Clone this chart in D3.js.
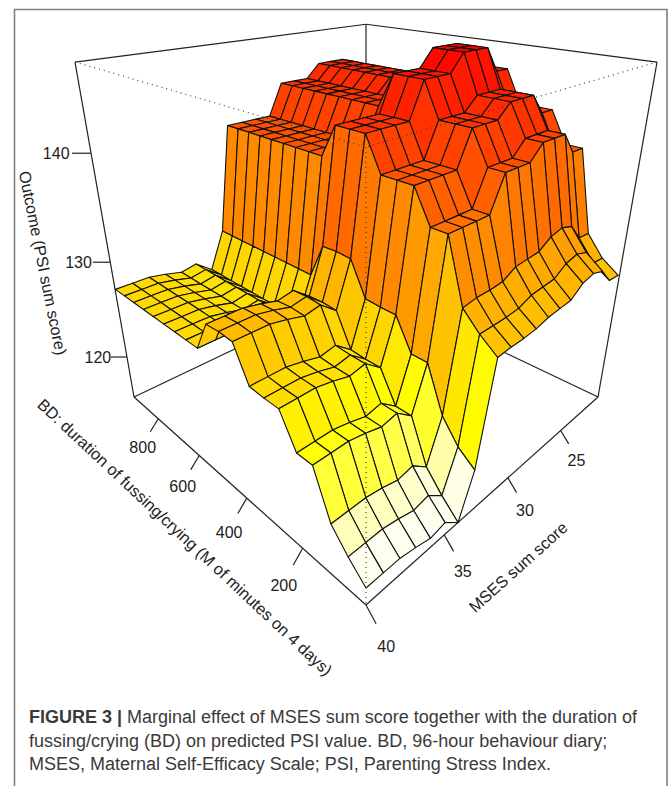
<!DOCTYPE html>
<html>
<head>
<meta charset="utf-8">
<script src="https://cdn.jsdelivr.net/npm/d3@7"></script>
<style>
  html, body { margin: 0; padding: 0; background: #fff; }
  svg { display: block; font-family: "Liberation Sans", Arial, sans-serif; }
</style>
</head>
<body>
<div id="chart"></div>
<script>
// grid levels
const bdLevels = [9, 58, 106, 155, 203, 252, 300, 349, 397, 446, 494, 543, 591, 640, 688, 737, 785, 834, 882, 931];
const msesLevels = [40, 39, 38, 37, 36, 35, 34, 33, 32, 31, 30, 29, 28, 27, 26, 25, 24, 23, 22, 21];

const bdTicks = [200, 400, 600, 800];
const msesTicks = [25, 30, 35, 40];
const psiTicks = [120, 130, 140];

// predicted PSI, one row per BD level, one column per MSES level
const psi = [
  [117.0, 117.0, 117.0, 116.7, 116.3, 116.6, 115.35, 119.5, 128.9, 129.0, 129.0, 129.1, 129.4, 129.5, 129.6, 130.5, 130.8, 130.4, 128.9, 128.8],
  [118.5, 118.5, 118.5, 118.2, 117.8, 118.1, 116.9, 120.7, 130.1, 130.1, 130.1, 130.2, 130.7, 130.8, 130.9, 131.7, 132.0, 131.6, 130.0, 129.9],
  [120.25, 120.25, 120.25, 120.0, 119.6, 119.9, 118.7, 122.7, 131.6, 131.8, 131.8, 131.9, 132.6, 132.7, 132.8, 133.6, 133.9, 133.5, 131.9, 131.8],
  [124.3, 124.3, 124.3, 124.0, 123.6, 123.9, 122.7, 126.8, 137.0, 137.0, 137.0, 137.0, 140.0, 140.0, 140.0, 141.3, 141.3, 141.3, 139.4, 139.4],
  [124.3, 124.3, 124.3, 124.0, 123.6, 123.9, 122.7, 126.8, 137.0, 137.0, 137.0, 137.0, 140.0, 140.0, 140.0, 141.3, 141.3, 141.3, 139.4, 139.4],
  [127.1, 127.1, 127.1, 126.8, 126.4, 126.7, 125.5, 129.6, 139.8, 139.8, 139.8, 139.8, 142.8, 142.8, 142.8, 144.0, 144.0, 144.0, 142.2, 142.2],
  [127.1, 127.1, 127.1, 126.8, 126.4, 126.7, 125.5, 129.6, 139.8, 139.8, 139.8, 139.8, 142.8, 142.8, 142.8, 144.0, 144.0, 144.0, 142.2, 142.2],
  [127.2, 127.2, 127.2, 126.9, 126.5, 126.8, 125.6, 129.7, 139.8, 139.8, 139.8, 139.8, 142.8, 142.8, 142.8, 144.0, 144.0, 144.0, 142.2, 142.2],
  [130.2, 130.2, 130.2, 129.9, 129.5, 129.8, 128.6, 132.7, 142.7, 142.7, 142.7, 142.7, 145.8, 145.8, 145.8, 147.35, 147.35, 147.35, 145.1, 145.1],
  [130.3, 130.3, 130.3, 130.0, 129.6, 129.9, 128.7, 132.8, 142.7, 142.7, 142.7, 142.7, 145.8, 145.8, 145.8, 147.35, 147.35, 147.35, 145.1, 145.1],
  [130.2, 130.2, 130.2, 129.9, 129.5, 129.8, 128.6, 132.7, 142.7, 142.7, 142.7, 142.7, 145.8, 145.8, 145.8, 147.35, 147.35, 147.35, 145.1, 145.1],
  [127.3, 127.3, 127.3, 127.0, 126.6, 126.9, 125.7, 129.4, 139.8, 139.8, 139.8, 139.8, 142.8, 142.8, 142.8, 144.1, 144.1, 144.1, 142.2, 142.2],
  [127.3, 127.3, 127.3, 127.0, 126.6, 126.9, 125.7, 129.4, 139.8, 139.8, 139.8, 139.8, 142.8, 142.8, 142.8, 144.1, 144.1, 144.1, 142.2, 142.2],
  [127.3, 127.3, 127.3, 127.0, 126.6, 126.9, 125.7, 129.4, 139.8, 139.8, 139.8, 139.8, 142.8, 142.8, 142.8, 144.1, 144.1, 144.1, 142.2, 142.2],
  [127.3, 127.3, 127.3, 127.0, 126.6, 126.9, 125.7, 129.4, 139.8, 139.8, 139.8, 139.8, 142.8, 142.8, 142.8, 144.1, 144.1, 144.1, 142.2, 142.2],
  [127.3, 127.3, 127.3, 127.0, 126.6, 126.9, 125.7, 129.4, 139.8, 139.8, 139.8, 139.8, 142.8, 142.8, 142.8, 144.1, 144.1, 144.1, 142.2, 142.2],
  [127.3, 127.3, 127.3, 127.0, 126.6, 126.9, 125.7, 129.4, 139.8, 139.8, 139.8, 139.8, 142.8, 142.8, 142.8, 144.1, 144.1, 144.1, 142.2, 142.2],
  [127.3, 127.3, 127.3, 127.0, 126.6, 126.9, 125.7, 129.4, 139.8, 139.8, 139.8, 139.8, 142.8, 142.8, 142.8, 144.1, 144.1, 144.1, 142.2, 142.2],
  [127.3, 127.3, 127.3, 127.0, 126.6, 126.9, 125.7, 129.4, 139.8, 139.8, 139.8, 139.8, 142.8, 142.8, 142.8, 144.1, 144.1, 144.1, 142.2, 142.2],
  [127.3, 127.3, 127.3, 127.0, 126.6, 126.9, 125.7, 129.4, 139.8, 139.8, 139.8, 139.8, 142.8, 142.8, 142.8, 144.1, 144.1, 144.1, 142.2, 142.2]
];

const captionLines = [
  "Marginal effect of MSES sum score together with the duration of",
  "fussing/crying (BD) on predicted PSI value. BD, 96-hour behaviour diary;",
  "MSES, Maternal Self-Efficacy Scale; PSI, Parenting Stress Index."
];

const width = 670;
const height = 786;

const svg = d3.select("#chart").append("svg").attr("width", width).attr("height", height);

// frame around figure + caption
svg.append("path")
  .attr("d", `M14.5,${height + 5}V9.5H667V${height + 5}`)
  .attr("fill", "none")
  .attr("stroke", "#808080")
  .attr("stroke-width", 1.6);

// 3D axes mapped to the unit cube
const u = d3.scaleLinear().domain([9, 933]).range([0, 1]);
const v = d3.scaleLinear().domain([40, 20.84]).range([0, 1]);
const w = d3.scaleLinear().domain([115.35, 147.35]).range([0, 1]);

// perspective camera fitted to the box corners
function project(a, b, c) {
  const d = 1 + 0.4416 * a + 0.4416 * b - 0.2923 * c;
  return [
    (366 - 172.8 * a + 496.1 * b - 107 * c) / d,
    (605 - 32.7 * a - 32.7 * b - 501 * c) / d
  ];
}

const line = d3.line();
const heat = d3.scaleLinear()
  .domain([115.35, 117.8, 119.5, 122, 124.6, 127, 147.35])
  .range(["#fffff0", "#fffff0", "#ffffb5", "#ffff40", "#ffff00", "#ffdd00", "#ff0000"]);

// box, solid edges behind the surface
const boxEdges = [
  [[1, 1, 1], [1, 0, 1]],
  [[1, 1, 1], [0, 1, 1]],
  [[1, 1, 1], [1, 1, 0]],
  [[1, 1, 0], [1, 0, 0]],
  [[1, 1, 0], [0, 1, 0]],
  [[1, 0, 1], [1, 0, 0]],
  [[0, 1, 1], [0, 1, 0]],
  [[1, 0, 0], [0, 0, 0]],
  [[0, 1, 0], [0, 0, 0]]
];
svg.append("g")
  .selectAll("path")
  .data(boxEdges)
  .join("path")
  .attr("d", (d) => line(d.map((p) => project(...p))))
  .attr("fill", "none")
  .attr("stroke", "#222")
  .attr("stroke-width", 1.2);

// facets far to near
const cells = [];
for (let i = bdLevels.length - 2; i >= 0; i--) {
  for (let j = msesLevels.length - 2; j >= 0; j--) {
    cells.push({ i, j });
  }
}
const corner = (i, j) => project(u(bdLevels[i]), v(msesLevels[j]), w(psi[i][j]));

svg.append("g")
  .selectAll("path")
  .data(cells)
  .join("path")
  .attr("d", ({ i, j }) =>
    line([corner(i, j), corner(i + 1, j), corner(i + 1, j + 1), corner(i, j + 1)]) + "Z"
  )
  .attr("fill", ({ i, j }) =>
    heat(d3.mean([psi[i][j], psi[i + 1][j], psi[i + 1][j + 1], psi[i][j + 1]]))
  )
  .attr("stroke", "#111")
  .attr("stroke-width", 1.1)
  .attr("stroke-linejoin", "round");

// hidden box edges, dotted over the surface
const dottedEdges = [
  [[1, 0, 1], [0, 0, 1]],
  [[0, 1, 1], [0, 0, 1]],
  [[0, 0, 1], [0, 0, 0]]
];
svg.append("g")
  .selectAll("path")
  .data(dottedEdges)
  .join("path")
  .attr("d", (d) => line(d.map((p) => project(...p))))
  .attr("fill", "none")
  .attr("stroke", "#333")
  .attr("stroke-width", 1.1)
  .attr("stroke-dasharray", "1 4");

// ticks
const tickColor = "#222";
const tickFont = 16;

function drawTick(g, start, end, labelAt, label) {
  g.append("line")
    .attr("x1", start[0]).attr("y1", start[1]).attr("x2", end[0]).attr("y2", end[1])
    .attr("stroke", tickColor)
    .attr("stroke-width", 1.2);
  g.append("text")
    .attr("x", labelAt[0]).attr("y", labelAt[1])
    .attr("dy", "0.36em")
    .attr("text-anchor", "middle")
    .attr("font-size", tickFont)
    .attr("fill", tickColor)
    .text(label);
}

const tickLayer = svg.append("g");
bdTicks.forEach((t) => {
  drawTick(tickLayer,
    project(u(t), 0, 0),
    project(u(t), -0.03, -0.03),
    project(u(t), -0.06, -0.07), t);
});
msesTicks.forEach((t) => {
  drawTick(tickLayer,
    project(0, v(t), 0),
    project(-0.03, v(t), -0.03),
    project(-0.06, v(t), -0.07), t);
});
// z ticks stay horizontal on screen
psiTicks.forEach((t) => {
  const base = project(1, 0, w(t));
  drawTick(tickLayer,
    base,
    [project(1, -0.05, w(t))[0], base[1]],
    [project(1, -0.09, w(t))[0], base[1]], t);
});

// axis titles
function axisTitle(label, pos, angle, size) {
  svg.append("text")
    .attr("transform", `translate(${pos[0]},${pos[1]}) rotate(${angle})`)
    .attr("text-anchor", "middle")
    .attr("dy", "0.36em")
    .attr("font-size", size)
    .attr("fill", "#222")
    .text(label);
}
axisTitle("BD: duration of fussing/crying (M of minutes on 4 days)", [185, 537], 43.1, 16.3);
axisTitle("MSES sum score", [518, 567], -42, 16.3);
axisTitle("Outcome (PSI sum score)", [43, 263], 78.6, 16.3);

// caption
const caption = svg.append("g").attr("fill", "#3a3a3a").attr("font-size", 18);
captionLines.forEach((l, n) => {
  const t = caption.append("text").attr("x", 29).attr("y", 723 + n * 23.6);
  if (n === 0) {
    t.append("tspan").attr("font-weight", "bold").text("FIGURE 3 | ");
  }
  t.append("tspan").text(l);
});
</script>
</body>
</html>
